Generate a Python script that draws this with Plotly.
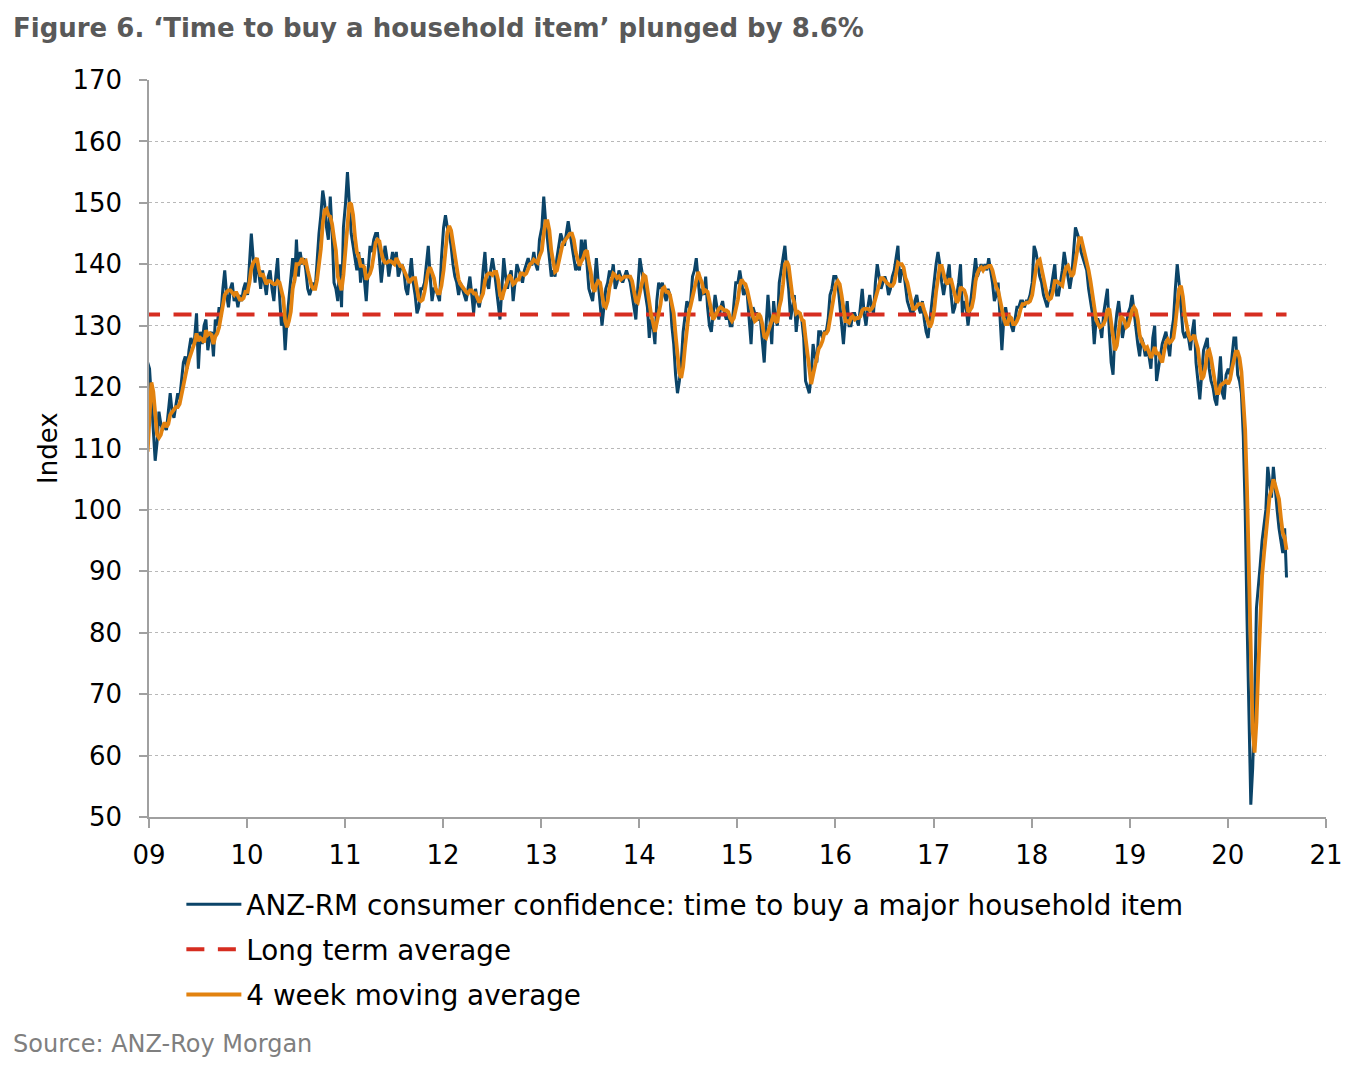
import pandas as pd
import plotly.graph_objects as go

# ---------------- data ----------------
tick_years = list(range(2009, 2022))
tick_labels = ["09", "10", "11", "12", "13", "14", "15", "16", "17", "18", "19", "20", "21"]

long_term_average = 131.8

# a few late-2008 weeks (left of the visible axis)
y2008_tail = [96, 100, 118, 124]

y2009 = [123, 118, 112, 108, 111, 116, 114, 113, 114, 113, 116, 119, 116, 115, 117, 119,
         118, 121, 124, 125, 123, 126, 128, 127, 128, 132, 123, 129, 127, 130, 131, 126,
         128, 129, 125, 131, 130, 133, 132, 136, 139, 135, 133, 136, 137, 134, 135, 133,
         135, 134, 136, 137]
y2010 = [135, 140, 145, 141, 137, 141, 138, 136, 139, 137, 135, 138, 139, 136, 134, 138,
         141, 135, 130, 132, 126, 131, 134, 138, 141, 137, 144, 138, 142, 140, 141, 139,
         136, 135, 136, 137, 136, 141, 145, 148, 152, 150, 146, 144, 151, 145, 137, 136,
         134, 140, 133, 146]
y2011 = [150, 155, 149, 145, 143, 141, 139, 142, 137, 141, 138, 134, 139, 143, 142, 144,
         145, 145, 141, 137, 140, 143, 141, 138, 140, 142, 140, 142, 138, 139, 140, 139,
         136, 135, 138, 141, 137, 135, 132, 133, 136, 136, 137, 140, 143, 138, 134, 136,
         136, 135, 134, 141]
y2012 = [146, 148, 146, 145, 143, 140, 138, 137, 135, 137, 136, 135, 134, 136, 138, 135,
         132, 136, 134, 133, 135, 139, 142, 137, 136, 139, 141, 139, 136, 134, 131, 136,
         141, 138, 136, 138, 139, 134, 137, 140, 139, 138, 137, 139, 140, 141, 140, 140,
         142, 140, 139, 144]
y2013 = [146, 151, 147, 144, 140, 138, 139, 138, 141, 143, 145, 144, 143, 145, 147, 145,
         143, 141, 139, 140, 139, 144, 141, 144, 140, 136, 135, 134, 137, 141, 137, 133,
         130, 133, 136, 137, 139, 138, 140, 136, 137, 139, 138, 137, 138, 139, 138, 137,
         135, 133, 131, 136]
y2014 = [141, 139, 137, 135, 133, 128, 131, 130, 127, 134, 137, 136, 137, 135, 134, 136,
         135, 130, 127, 122, 119, 121, 124, 129, 132, 134, 133, 134, 138, 139, 141, 137,
         134, 136, 135, 138, 133, 130, 129, 132, 135, 133, 131, 133, 134, 132, 131, 132,
         130, 130, 133, 137]
y2015 = [137, 139, 137, 135, 136, 135, 131, 127, 133, 132, 132, 131, 131, 127, 124, 130,
         135, 131, 127, 134, 131, 130, 137, 139, 141, 143, 139, 136, 131, 133, 135, 129,
         132, 132, 131, 128, 121, 120, 119, 122, 127, 125, 124, 129, 129, 128, 129, 129,
         131, 135, 136, 138]
y2016 = [138, 137, 134, 131, 127, 131, 134, 130, 130, 132, 132, 131, 130, 133, 136, 132,
         130, 133, 135, 133, 132, 137, 140, 138, 136, 137, 138, 137, 135, 136, 138, 139,
         141, 143, 137, 139, 139, 136, 134, 133, 132, 132, 134, 135, 133, 132, 134, 131,
         129, 128, 131, 134]
y2017 = [137, 140, 142, 140, 137, 135, 137, 138, 140, 135, 132, 133, 135, 137, 140, 132,
         134, 133, 130, 133, 136, 139, 141, 138, 139, 140, 139, 140, 139, 141, 139, 137,
         134, 135, 137, 131, 126, 131, 133, 131, 131, 130, 129, 131, 133, 133, 134, 134,
         133, 134, 134, 135]
y2018 = [137, 143, 142, 140, 138, 137, 135, 134, 133, 135, 136, 138, 140, 135, 135, 137,
         139, 142, 140, 138, 136, 138, 142, 146, 145, 144, 142, 141, 140, 139, 136, 134,
         132, 127, 131, 131, 130, 128, 132, 134, 136, 129, 124, 122, 129, 132, 134, 131,
         128, 130, 130, 132]
y2019 = [133, 135, 132, 130, 127, 125, 128, 127, 125, 126, 125, 123, 128, 130, 121, 123,
         125, 127, 128, 129, 127, 125, 129, 131, 136, 140, 137, 133, 129, 128, 129, 128,
         126, 129, 131, 124, 121, 118, 122, 126, 127, 128, 123, 121, 120, 118, 117, 121,
         125, 119, 118, 122]
y2020 = [123, 122, 125, 128, 128, 122, 121, 119, 112, 100, 82, 64, 52, 58, 68, 84,
         87, 91, 95, 98, 100, 107, 104, 102, 107, 103, 100, 97, 95, 93, 97, 89]

# ---------------- build the weekly series ----------------
year_lists = [(2009, y2009), (2010, y2010), (2011, y2011), (2012, y2012), (2013, y2013),
              (2014, y2014), (2015, y2015), (2016, y2016), (2017, y2017), (2018, y2018),
              (2019, y2019), (2020, y2020)]

dates = list(pd.date_range(end="2008-12-27", periods=len(y2008_tail), freq="7D"))
values = list(y2008_tail)
for yr, lst in year_lists:
    dates += list(pd.date_range(f"{yr}-01-03", periods=len(lst), freq="7D"))
    values += lst

series = pd.Series(values, index=pd.DatetimeIndex(dates))
moving_avg = series.rolling(4).mean()

BLUE = "#0b4468"
ORANGE = "#e2820f"
RED = "#d62d20"

fig = go.Figure()
fig.add_trace(go.Scatter(
    x=series.index, y=series.values, mode="lines",
    name="ANZ-RM consumer confidence: time to buy a major household item",
    line=dict(color=BLUE, width=3), legendgroup="a"))
fig.add_trace(go.Scatter(
    x=[series.index[0], series.index[-1]], y=[long_term_average, long_term_average],
    mode="lines", name="Long term average",
    line=dict(color=RED, width=4, dash="18px,13.5px"), legendgroup="b"))
fig.add_trace(go.Scatter(
    x=moving_avg.index, y=moving_avg.values, mode="lines",
    name="4 week moving average",
    line=dict(color=ORANGE, width=3.8), legendgroup="c"))

fig.update_layout(
    width=1361, height=1081,
    margin=dict(l=141, r=43, t=72, b=272),
    plot_bgcolor="white", paper_bgcolor="white",
    font=dict(family="DejaVu Sans", size=26, color="#000000"),
    title=dict(text="<b>Figure 6. ‘Time to buy a household item’ plunged by 8.6%</b>",
               x=5 / 1361, xanchor="left", y=1 - 20 / 1081, yanchor="middle",
               font=dict(family="DejaVu Sans", size=26, color="#595959")),
    showlegend=True,
    legend=dict(orientation="v", x=0.0275, xanchor="left", y=-0.085, yanchor="top",
                font=dict(size=27.8, color="#000000"), bgcolor="rgba(0,0,0,0)",
                itemwidth=55, tracegroupgap=6, traceorder="grouped"),
    hovermode=False,
)

fig.update_xaxes(
    type="date", range=["2009-01-01", "2021-01-01"],
    tickvals=[f"{y}-01-01" for y in tick_years], ticktext=tick_labels,
    showgrid=False, zeroline=False,
    showline=True, linecolor="#a0a0a0", linewidth=1.5,
    ticks="outside", ticklen=9, tickcolor="#a0a0a0", tickwidth=1.5,
    tickfont=dict(size=26), ticklabelstandoff=5,
)
fig.update_yaxes(
    range=[50, 170], tick0=50, dtick=10,
    showgrid=True, gridcolor="#b8b8b8", griddash="dot", gridwidth=1,
    zeroline=False,
    showline=True, linecolor="#a0a0a0", linewidth=1.5,
    ticks="outside", ticklen=8, tickcolor="#a0a0a0", tickwidth=1.5,
    tickfont=dict(size=26), ticklabelstandoff=12,
)

fig.add_annotation(text="Index", textangle=-90, xref="paper", yref="paper",
                   x=(48 - 149) / 1177, y=(817 - 448) / 737, xanchor="center", yanchor="middle",
                   showarrow=False, font=dict(size=26, color="#000000"))
fig.add_annotation(text="Source: ANZ-Roy Morgan", xref="paper", yref="paper",
                   x=(11 - 149) / 1177, y=(817 - 1044) / 737, xanchor="left", yanchor="middle",
                   showarrow=False, font=dict(size=24, color="#7f7f7f"))

fig.write_html("out.html")
